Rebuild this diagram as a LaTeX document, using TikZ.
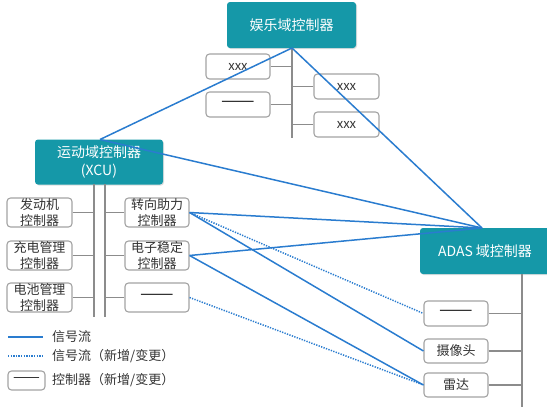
\documentclass[tikz,border=0pt]{standalone}
\usepackage{fontspec}
\setmainfont{Noto Sans CJK SC}
\usetikzlibrary{shadows}
\definecolor{domainfill}{HTML}{1598A8}
\definecolor{signal}{HTML}{2A7CCF}
\definecolor{busgray}{HTML}{8C8C8C}
\definecolor{boxgray}{HTML}{A3A3A3}
\definecolor{txt}{HTML}{333333}
\newcommand{\blankunit}[1][20]{{\fontsize{#1}{16}\selectfont ——}}
\begin{document}
\begin{tikzpicture}[x=1pt,y=-1pt,
  domainbox/.style={fill=domainfill, text=white, rounded corners=3pt, inner sep=0pt,
    align=center, font=\fontsize{14}{17.5}\selectfont,
    drop shadow={shadow xshift=1pt, shadow yshift=-1pt, opacity=0.25}},
  unit/.style={draw=boxgray, line width=1.1pt, fill=white, rounded corners=3.5pt,
    inner sep=0pt, align=center, text=txt, font=\fontsize{13}{15.5}\selectfont},
  bus/.style={draw=busgray, line width=1.8pt},
  sig/.style={draw=signal, line width=1.5pt},
  newsig/.style={draw=signal, line width=1.5pt, dash pattern=on 1.3pt off 1.3pt},
  legendtext/.style={anchor=west, inner sep=0pt, text=txt, font=\fontsize{13}{15}\selectfont}]
\useasboundingbox (0,0) rectangle (547,407);

% domain controllers
\node[domainbox, minimum width=129pt, minimum height=46pt] (ent) at (291.5,25) {娱乐域控制器};
\node[domainbox, minimum width=128pt, minimum height=45pt] (xcu) at (99,162) {运动域控制器\\(XCU)};
\node[domainbox, minimum width=130pt, minimum height=46pt] (adas) at (485,251) {ADAS 域控制器};

% buses
\coordinate (entbusT) at (292,48);
\coordinate (entbusB) at (292,138);
\coordinate (xbusLT) at (94,184);
\coordinate (xbusLB) at (94,317);
\coordinate (xbusRT) at (105,184);
\coordinate (xbusRB) at (105,317);
\coordinate (abusT) at (522,274);
\coordinate (abusB) at (522,407);
\draw[bus] (entbusT) -- (entbusB);
\draw[bus] (xbusLT) -- (xbusLB);
\draw[bus] (xbusRT) -- (xbusRB);
\draw[bus] (abusT) -- (abusB);

% infotainment units
\node[unit, minimum width=64pt, minimum height=25pt] (e1) at (238,66.5) {xxx};
\node[unit, minimum width=64pt, minimum height=25pt] (e2) at (238,104.5) {\blankunit};
\node[unit, minimum width=65pt, minimum height=25pt] (e3) at (346.5,86.5) {xxx};
\node[unit, minimum width=65pt, minimum height=25pt] (e4) at (346.5,124.5) {xxx};
\foreach \n in {e1,e2} \draw[bus] (\n.east) -- (\n.east -| entbusT);
\foreach \n in {e3,e4} \draw[bus] (\n.west) -- (\n.west -| entbusT);

% chassis / powertrain units
\node[unit, minimum width=65pt, minimum height=29pt] (m1) at (39.5,212.5) {发动机\\控制器};
\node[unit, minimum width=65pt, minimum height=29pt] (m2) at (39.5,255.5) {充电管理\\控制器};
\node[unit, minimum width=65pt, minimum height=29pt] (m3) at (39.5,297.5) {电池管理\\控制器};
\node[unit, minimum width=64pt, minimum height=29pt] (m4) at (157,212.5) {转向助力\\控制器};
\node[unit, minimum width=64pt, minimum height=29pt] (m5) at (157,255.5) {电子稳定\\控制器};
\node[unit, minimum width=64pt, minimum height=29pt] (m6) at (157,297.5) {\blankunit};
\foreach \n in {m1,m2,m3} \draw[bus] (\n.east) -- (\n.east -| xbusLT);
\foreach \n in {m4,m5,m6} \draw[bus] (\n.west) -- (\n.west -| xbusRT);

% ADAS units
\node[unit, minimum width=64pt, minimum height=25pt] (a1) at (456,313.5) {\blankunit};
\node[unit, minimum width=64pt, minimum height=24pt] (a2) at (456,351) {摄像头};
\node[unit, minimum width=64pt, minimum height=24pt] (a3) at (456,385) {雷达};
\foreach \n in {a1,a2,a3} \draw[bus] (\n.east) -- (\n.east -| abusT);

% signal flows
\coordinate (entout) at (292,48);
\coordinate (xcuin) at (100,139.5);
\coordinate (adasin) at (482,228);
\draw[sig] (entout) -- (xcuin);
\draw[sig] (entout) -- (adasin);
\draw[sig] (xcuin) -- (adasin);
\draw[sig] (m4.east) -- (adasin);
\draw[sig] (m4.east) -- (a2.west);
\draw[newsig] (m4.east) -- (a1.west);
\draw[sig] (m5.east) -- (adasin);
\draw[sig] (m5.east) -- (a3.west);
\draw[newsig] (m6.east) -- (a3.west);

% legend
\coordinate (l1a) at (8,337);
\coordinate (l1b) at (43,337);
\coordinate (l2a) at (8,356);
\coordinate (l2b) at (43,356);
\draw[sig] (l1a) -- (l1b);
\draw[newsig] (l2a) -- (l2b);
\node[unit, minimum width=37pt, minimum height=19pt] (l3) at (26.5,380.5) {\blankunit[16]};
\node[legendtext] (t1) at (52,337) {信号流};
\node[legendtext] (t2) at (52,356) {信号流（新增/变更）};
\node[legendtext] (t3) at (52,380.5) {控制器（新增/变更）};
\end{tikzpicture}
\end{document}
